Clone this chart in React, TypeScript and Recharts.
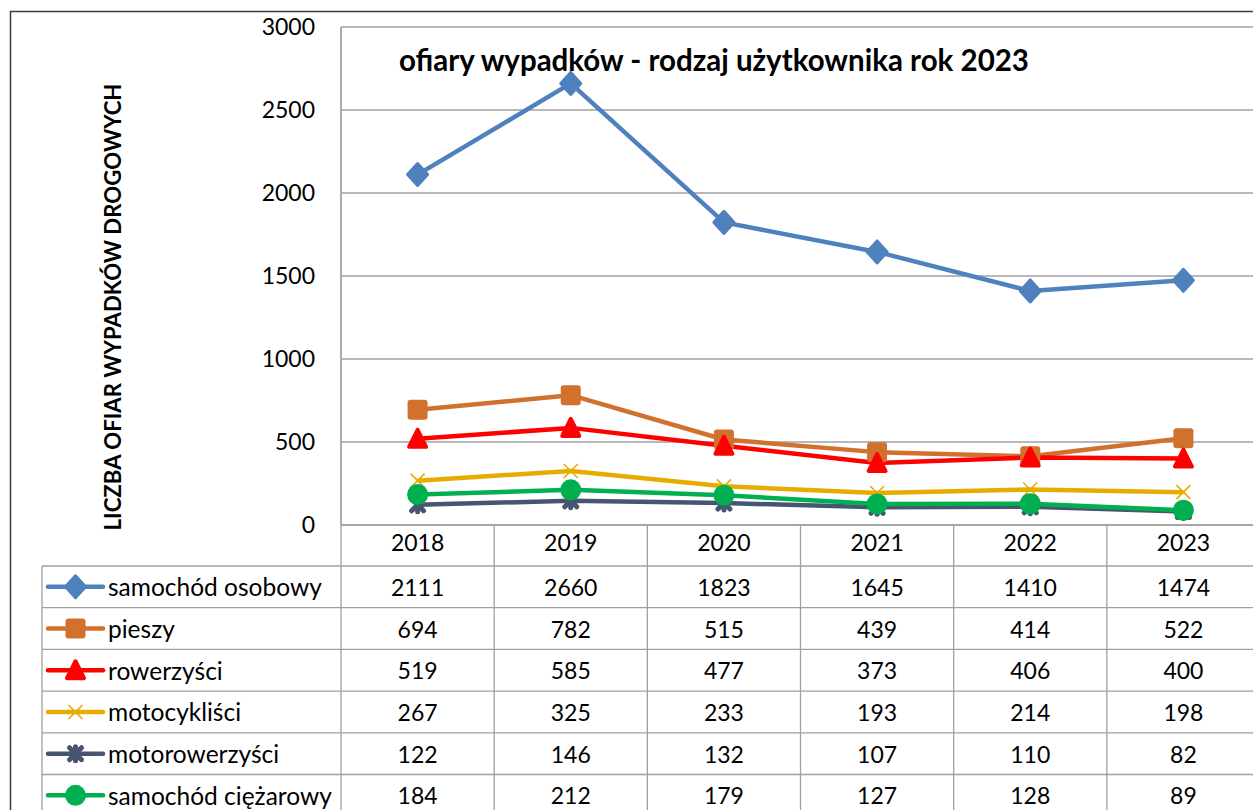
import React from "react";
import { CartesianGrid, Line, LineChart, XAxis, YAxis } from "recharts";

const years = ["2018", "2019", "2020", "2021", "2022", "2023"];
const samochodOsobowy = [2111, 2660, 1823, 1645, 1410, 1474];
const piesi = [694, 782, 515, 439, 414, 522];
const rowerzysci = [519, 585, 477, 373, 406, 400];
const motocyklisci = [267, 325, 233, 193, 214, 198];
const motorowerzysci = [122, 146, 132, 107, 110, 82];
const samochodCiezarowy = [184, 212, 179, 127, 128, 89];
const yTicks = [0, 500, 1000, 1500, 2000, 2500, 3000];

type MarkerType = "diamond" | "square" | "triangle" | "x" | "star" | "circle";

const series: { key: string; name: string; values: number[]; color: string; marker: MarkerType }[] = [
  { key: "osobowy", name: "samochód osobowy", values: samochodOsobowy, color: "#4F81BD", marker: "diamond" },
  { key: "pieszy", name: "pieszy", values: piesi, color: "#D2702E", marker: "square" },
  { key: "rowerzysci", name: "rowerzyści", values: rowerzysci, color: "#FF0000", marker: "triangle" },
  { key: "motocyklisci", name: "motocykliści", values: motocyklisci, color: "#E6AC00", marker: "x" },
  { key: "motorowerzysci", name: "motorowerzyści", values: motorowerzysci, color: "#465670", marker: "star" },
  { key: "ciezarowy", name: "samochód ciężarowy", values: samochodCiezarowy, color: "#00B050", marker: "circle" },
];

const data = years.map((year, i) => {
  const row: Record<string, string | number> = { year };
  series.forEach((s) => {
    row[s.key] = s.values[i];
  });
  return row;
});

// layout
const WIDTH = 1253;
const HEIGHT = 810;
const CHART_WIDTH = 1272;
const PLOT_LEFT = 341;
const PLOT_RIGHT = 1260;
const PLOT_TOP = 27;
const PLOT_BOTTOM = 525;
const ROW_TOP = 566;
const ROW_H = 41.7;
const LEGEND_LEFT = 42;
const COL_W = (PLOT_RIGHT - PLOT_LEFT) / years.length;
const FONT = "Lato, 'Open Sans', sans-serif";
const GRID = "#A0A0A0";

function Marker({ type, cx, cy, color }: { type: MarkerType; cx: number; cy: number; color: string }) {
  switch (type) {
    case "diamond":
      return (
        <path
          d={`M${cx},${cy - 11} L${cx + 10},${cy} L${cx},${cy + 11} L${cx - 10},${cy} Z`}
          fill={color}
          stroke={color}
          strokeWidth={3}
          strokeLinejoin="round"
        />
      );
    case "square":
      return <rect x={cx - 10} y={cy - 10} width={20} height={20} rx={3} fill={color} />;
    case "triangle":
      return (
        <path
          d={`M${cx},${cy - 9} L${cx + 8.5},${cy + 8} L${cx - 8.5},${cy + 8} Z`}
          fill={color}
          stroke={color}
          strokeWidth={4}
          strokeLinejoin="round"
        />
      );
    case "x":
      return (
        <path
          d={`M${cx - 7},${cy - 7} L${cx + 7},${cy + 7} M${cx + 7},${cy - 7} L${cx - 7},${cy + 7}`}
          stroke={color}
          strokeWidth={1.6}
          fill="none"
        />
      );
    case "star":
      return (
        <g stroke={color} strokeWidth={5} strokeLinecap="round">
          <path d={`M${cx - 6},${cy - 6} L${cx + 6},${cy + 6} M${cx + 6},${cy - 6} L${cx - 6},${cy + 6}`} />
          <path d={`M${cx},${cy - 7} L${cx},${cy + 7}`} />
        </g>
      );
    case "circle":
      return <circle cx={cx} cy={cy} r={10.5} fill={color} />;
  }
  return null;
}

function DataTable() {
  const rowsBottom = ROW_TOP + ROW_H * series.length;
  return (
    <svg
      width={WIDTH}
      height={HEIGHT}
      style={{ position: "absolute", left: 0, top: 0, pointerEvents: "none" }}
      fontFamily={FONT}
    >
      {/* outer chart frame */}
      <line x1={10.5} y1={11} x2={10.5} y2={HEIGHT} stroke="#3C3C3C" strokeWidth={1.5} />
      <line x1={10} y1={11.5} x2={WIDTH} y2={11.5} stroke="#3C3C3C" strokeWidth={1.5} />

      <text x={399} y={71} fontSize={29.5} fontWeight={700} fill="#000">
        ofiary wypadków - rodzaj użytkownika rok 2023
      </text>
      <text
        x={112}
        y={307}
        transform="rotate(-90, 112, 307)"
        textAnchor="middle"
        dominantBaseline="central"
        fontSize={22.2}
        fontWeight={700}
        fill="#000"
      >
        LICZBA OFIAR WYPADKÓW DROGOWYCH
      </text>

      {/* table grid */}
      <g stroke={GRID} strokeWidth={1.3}>
        {series.map((_, i) => (
          <line key={`h${i}`} x1={LEGEND_LEFT} x2={WIDTH} y1={ROW_TOP + ROW_H * i} y2={ROW_TOP + ROW_H * i} />
        ))}
        <line x1={LEGEND_LEFT} x2={LEGEND_LEFT} y1={ROW_TOP} y2={rowsBottom} />
        {years.map((_, i) => (
          <line
            key={`v${i}`}
            x1={PLOT_LEFT + COL_W * i}
            x2={PLOT_LEFT + COL_W * i}
            y1={i === 0 ? PLOT_TOP : PLOT_BOTTOM}
            y2={rowsBottom}
          />
        ))}
      </g>

      {series.map((s, r) => {
        const cy = ROW_TOP + ROW_H * (r + 0.5);
        return (
          <g key={s.key}>
            <line x1={48} x2={103} y1={cy} y2={cy} stroke={s.color} strokeWidth={4.5} strokeLinecap="round" />
            <Marker type={s.marker} cx={75.5} cy={cy} color={s.color} />
            <text x={108} y={cy} dominantBaseline="central" fontSize={24.5} fill="#000">
              {s.name}
            </text>
            {s.values.map((v, i) => (
              <text
                key={i}
                x={PLOT_LEFT + COL_W * (i + 0.5)}
                y={cy}
                textAnchor="middle"
                dominantBaseline="central"
                fontSize={23}
                fill="#000"
              >
                {v}
              </text>
            ))}
          </g>
        );
      })}
    </svg>
  );
}

export default function App() {
  return (
    <div
      style={{
        position: "absolute",
        left: 0,
        top: 0,
        width: WIDTH,
        height: HEIGHT,
        overflow: "hidden",
        background: "#fff",
      }}
    >
      <LineChart
        width={CHART_WIDTH}
        height={HEIGHT}
        data={data}
        margin={{ top: PLOT_TOP, right: CHART_WIDTH - PLOT_RIGHT, bottom: 0, left: 0 }}
      >
        <CartesianGrid vertical={false} stroke={GRID} strokeWidth={1.3} />
        <XAxis
          dataKey="year"
          height={HEIGHT - PLOT_BOTTOM}
          padding={{ left: COL_W / 2, right: COL_W / 2 }}
          axisLine={{ stroke: GRID, strokeWidth: 1.3 }}
          tickLine={false}
          tickSize={0}
          tickMargin={10}
          tick={{ fill: "#000", fontSize: 23, fontFamily: FONT }}
          interval={0}
        />
        <YAxis
          width={PLOT_LEFT}
          domain={[0, 3000]}
          ticks={yTicks}
          axisLine={{ stroke: GRID, strokeWidth: 1.3 }}
          tickLine={false}
          tickSize={0}
          tickMargin={26}
          tick={{ fill: "#000", fontSize: 23, fontFamily: FONT }}
          interval={0}
        />
        {series.map((s) => (
          <Line
            key={s.key}
            dataKey={s.key}
            name={s.name}
            stroke={s.color}
            strokeWidth={4.5}
            strokeLinejoin="round"
            isAnimationActive={false}
            dot={(p: any) => <Marker key={`${s.key}-${p.index}`} type={s.marker} cx={p.cx} cy={p.cy} color={s.color} />}
            activeDot={false}
          />
        ))}
      </LineChart>
      <DataTable />
    </div>
  );
}
